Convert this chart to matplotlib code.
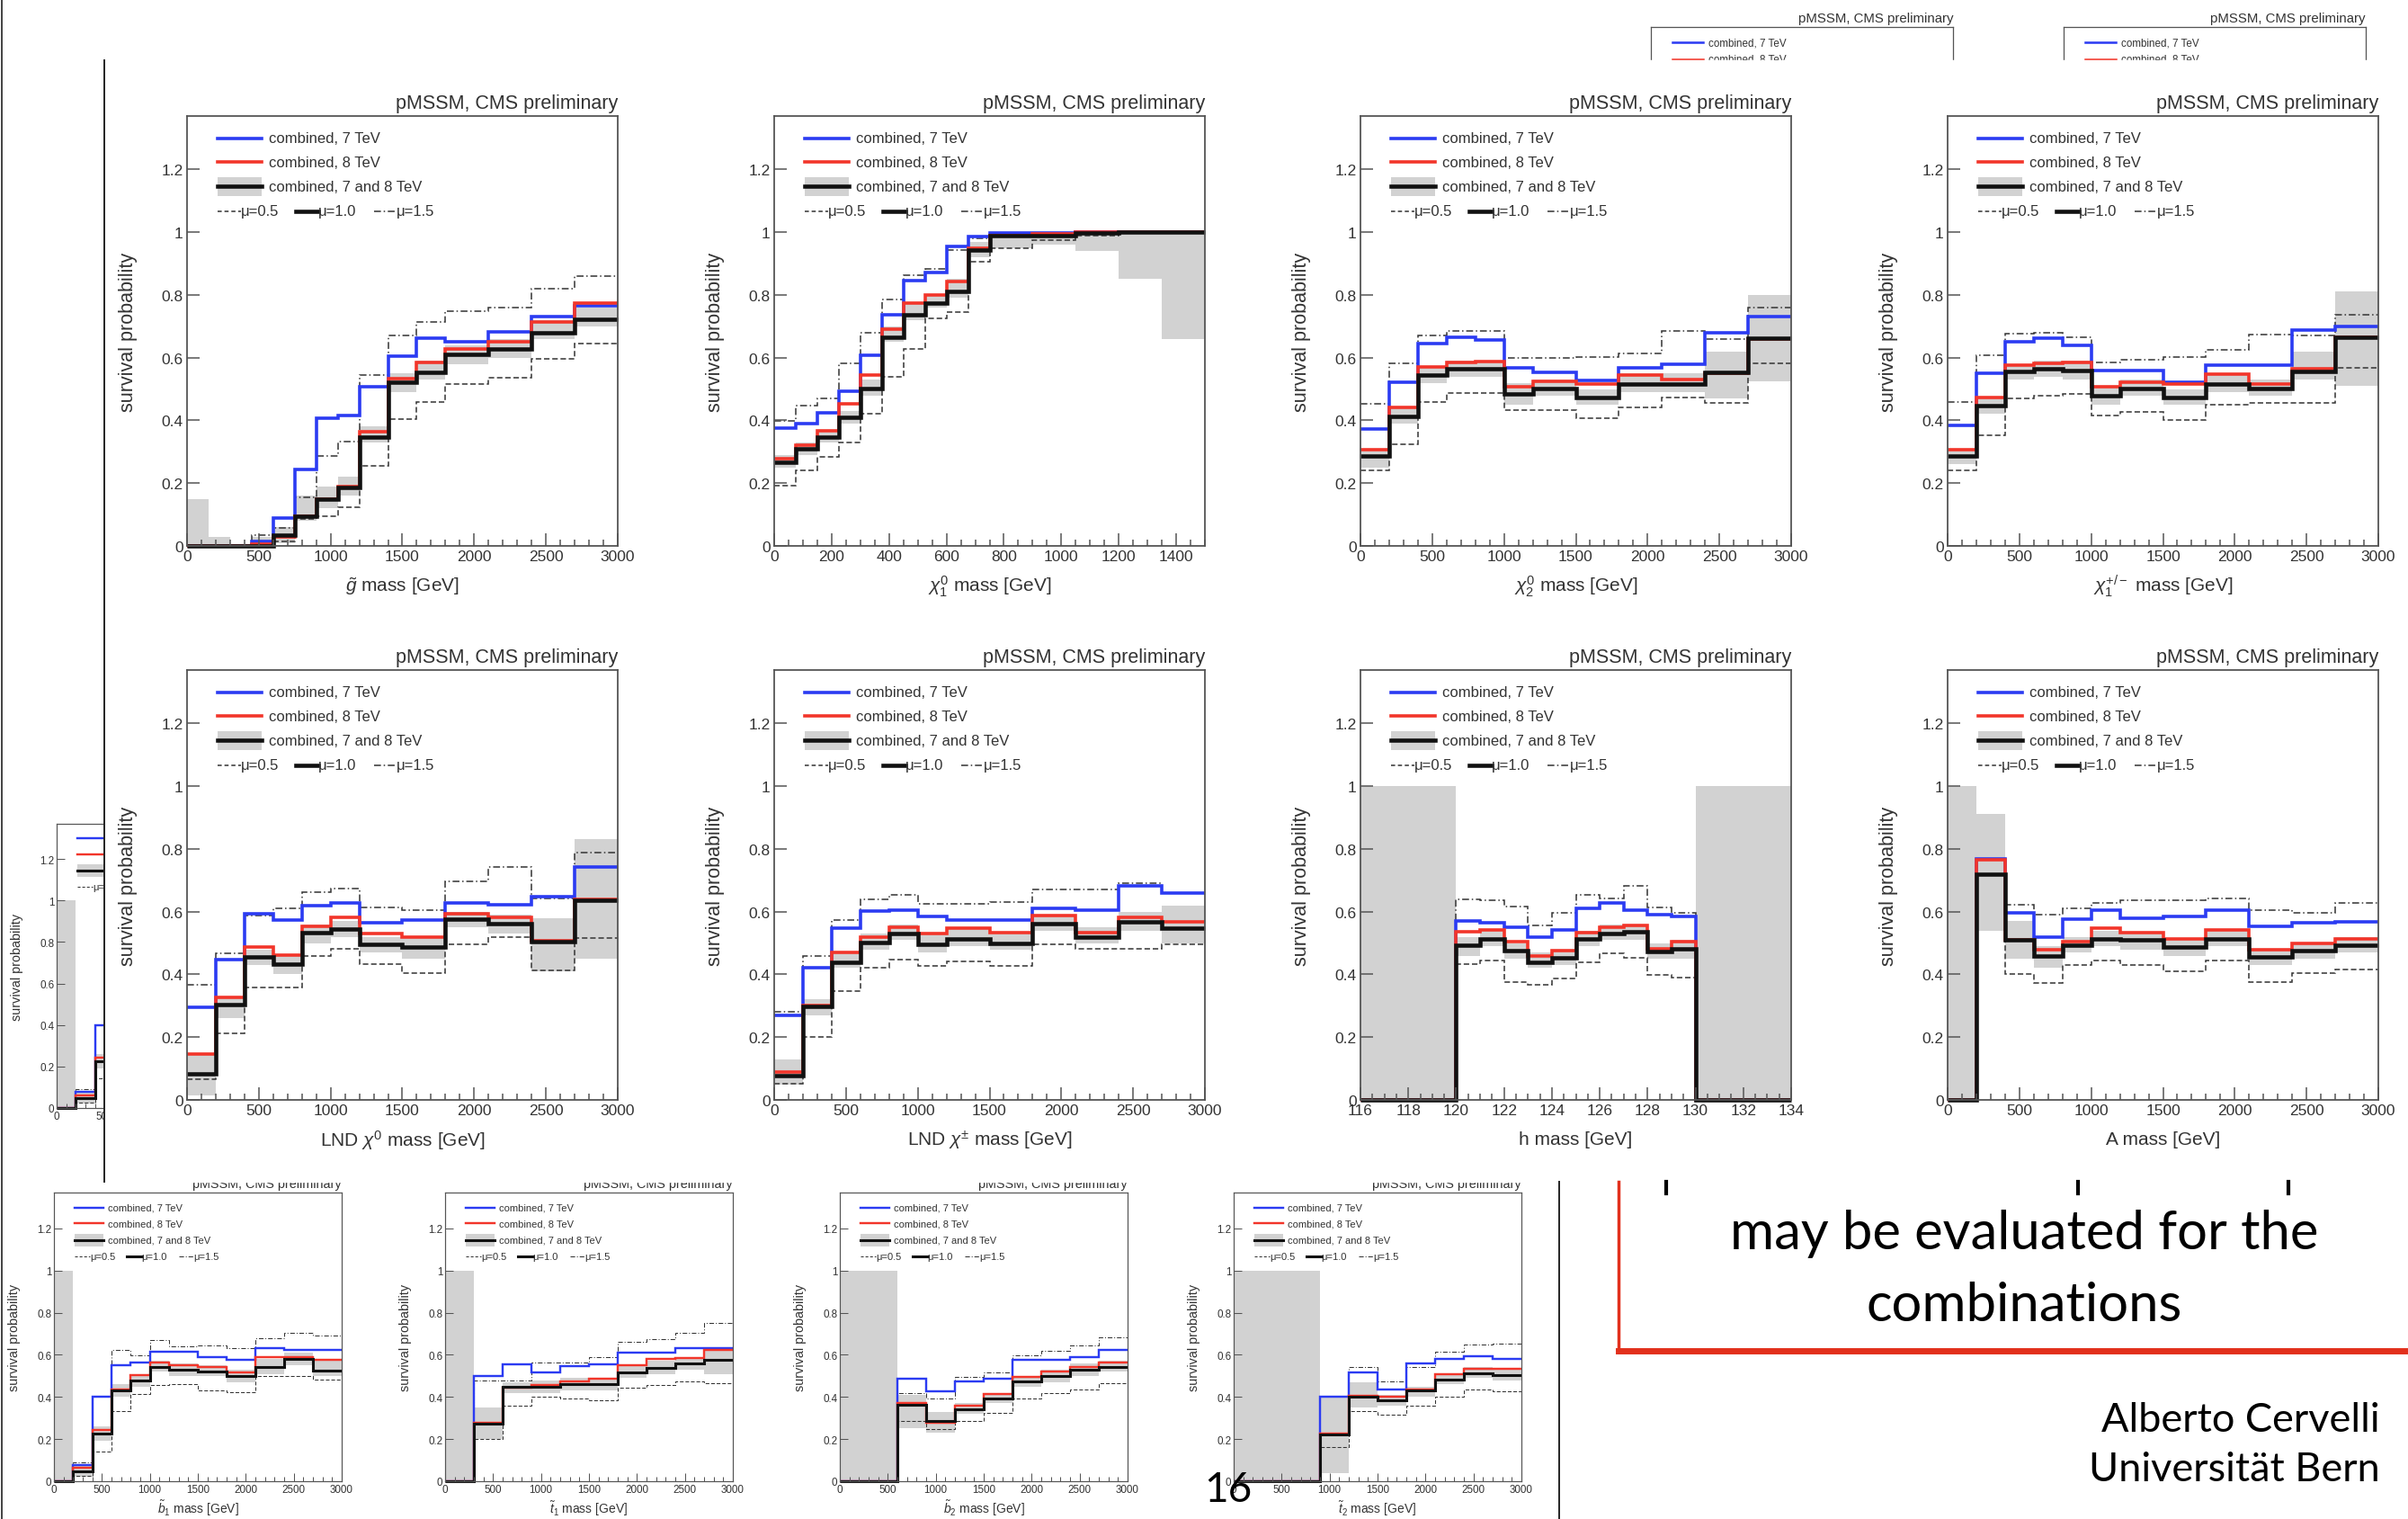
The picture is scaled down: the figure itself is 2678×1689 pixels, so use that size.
import matplotlib
matplotlib.use("Agg")
import matplotlib.pyplot as plt
from matplotlib.patches import Rectangle
from matplotlib.lines import Line2D

plt.rcParams['font.family'] = ['Liberation Sans', 'DejaVu Sans']
plt.rcParams['mathtext.fontset'] = 'custom'
plt.rcParams['mathtext.rm'] = 'Liberation Sans'
plt.rcParams['mathtext.it'] = 'Liberation Sans:italic'

W, H = 2678, 1690

# ---------- DATA ---------- #
E12 = [0, 200, 400, 600, 800, 1000, 1200, 1500, 1800, 2100, 2400, 2700, 3000]

gl_edges = [0, 150, 300, 450, 600, 750, 900, 1050, 1200, 1400, 1600, 1800, 2100, 2400, 2700, 3000]
gl_blue = [0, 0, 0, 0.013, 0.09, 0.245, 0.407, 0.415, 0.506, 0.605, 0.661, 0.65, 0.682, 0.73, 0.765]
gl_red = [0, 0, 0, 0.005, 0.03, 0.096, 0.15, 0.19, 0.365, 0.533, 0.586, 0.629, 0.652, 0.714, 0.773]
gl_black = [0, 0, 0, 0, 0.035, 0.096, 0.149, 0.187, 0.346, 0.522, 0.554, 0.61, 0.629, 0.68, 0.723]
gl_lo = [0, 0, 0, 0, 0.01, 0.08, 0.12, 0.16, 0.33, 0.49, 0.53, 0.58, 0.6, 0.66, 0.70]
gl_hi = [0.15, 0.03, 0.005, 0.03, 0.06, 0.16, 0.19, 0.22, 0.38, 0.55, 0.59, 0.64, 0.66, 0.72, 0.76]
gl_up = [0, 0, 0, 0.035, 0.056, 0.155, 0.286, 0.333, 0.544, 0.67, 0.714, 0.748, 0.759, 0.821, 0.861]
gl_dn = [0, 0, 0, 0.005, 0.013, 0.085, 0.096, 0.123, 0.256, 0.405, 0.46, 0.517, 0.535, 0.597, 0.645]

n1_edges = [0, 75, 150, 225, 300, 375, 450, 525, 600, 675, 750, 900, 1050, 1200, 1350, 1500]
n1_blue = [0.375, 0.389, 0.424, 0.493, 0.608, 0.736, 0.845, 0.871, 0.954, 0.985, 0.997, 0.997, 1.0, 1.0, 1.0]
n1_red = [0.277, 0.322, 0.366, 0.453, 0.544, 0.69, 0.773, 0.80, 0.842, 0.948, 0.99, 0.995, 1.0, 1.0, 1.0]
n1_black = [0.267, 0.309, 0.346, 0.41, 0.501, 0.666, 0.736, 0.773, 0.81, 0.943, 0.99, 0.99, 0.997, 1.0, 1.0]
n1_lo = [0.25, 0.29, 0.33, 0.39, 0.48, 0.65, 0.72, 0.76, 0.79, 0.92, 0.95, 0.96, 0.94, 0.85, 0.66]
n1_hi = [0.29, 0.33, 0.37, 0.43, 0.53, 0.70, 0.77, 0.80, 0.85, 0.97, 1.0, 1.0, 1.0, 1.0, 1.0]
n1_up = [0.397, 0.448, 0.469, 0.581, 0.68, 0.784, 0.864, 0.882, 0.943, 0.979, 0.995, 0.998, 1.0, 1.0, 1.0]
n1_dn = [0.192, 0.24, 0.283, 0.33, 0.421, 0.538, 0.629, 0.725, 0.746, 0.906, 0.949, 0.975, 0.99, 1.0, 1.0]

n2_blue = [0.373, 0.522, 0.645, 0.666, 0.656, 0.567, 0.554, 0.526, 0.567, 0.578, 0.68, 0.73]
n2_red = [0.307, 0.442, 0.57, 0.584, 0.588, 0.506, 0.525, 0.517, 0.544, 0.531, 0.55, 0.66]
n2_black = [0.288, 0.413, 0.544, 0.565, 0.565, 0.485, 0.503, 0.474, 0.517, 0.517, 0.554, 0.661]
n2_lo = [0.25, 0.39, 0.52, 0.54, 0.54, 0.45, 0.48, 0.45, 0.49, 0.49, 0.47, 0.525]
n2_hi = [0.31, 0.44, 0.57, 0.59, 0.59, 0.52, 0.53, 0.50, 0.55, 0.55, 0.62, 0.80]
n2_up = [0.453, 0.583, 0.67, 0.684, 0.684, 0.599, 0.599, 0.602, 0.613, 0.684, 0.659, 0.76]
n2_dn = [0.24, 0.325, 0.458, 0.488, 0.488, 0.432, 0.432, 0.407, 0.442, 0.474, 0.456, 0.581]

c1_blue = [0.384, 0.549, 0.652, 0.661, 0.64, 0.56, 0.56, 0.522, 0.576, 0.576, 0.688, 0.698]
c1_red = [0.306, 0.474, 0.576, 0.581, 0.586, 0.506, 0.522, 0.517, 0.546, 0.517, 0.565, 0.665]
c1_black = [0.288, 0.448, 0.557, 0.565, 0.56, 0.48, 0.503, 0.474, 0.517, 0.501, 0.557, 0.666]
c1_lo = [0.26, 0.42, 0.53, 0.54, 0.53, 0.45, 0.48, 0.45, 0.49, 0.48, 0.53, 0.51]
c1_hi = [0.31, 0.47, 0.58, 0.59, 0.59, 0.51, 0.53, 0.50, 0.55, 0.53, 0.62, 0.81]
c1_up = [0.46, 0.608, 0.677, 0.68, 0.666, 0.586, 0.594, 0.602, 0.624, 0.674, 0.672, 0.738]
c1_dn = [0.24, 0.352, 0.469, 0.48, 0.485, 0.416, 0.426, 0.40, 0.45, 0.456, 0.456, 0.567]

ln0_blue = [0.295, 0.448, 0.594, 0.572, 0.62, 0.628, 0.565, 0.574, 0.628, 0.623, 0.647, 0.742]
ln0_red = [0.147, 0.328, 0.486, 0.461, 0.553, 0.583, 0.529, 0.518, 0.594, 0.583, 0.508, 0.64]
ln0_black = [0.083, 0.303, 0.456, 0.434, 0.532, 0.545, 0.495, 0.486, 0.577, 0.561, 0.505, 0.637]
ln0_lo = [0.015, 0.26, 0.43, 0.40, 0.50, 0.52, 0.47, 0.45, 0.55, 0.53, 0.41, 0.45]
ln0_hi = [0.15, 0.33, 0.48, 0.46, 0.56, 0.57, 0.52, 0.52, 0.60, 0.59, 0.58, 0.83]
ln0_up = [0.368, 0.467, 0.588, 0.61, 0.663, 0.674, 0.612, 0.606, 0.696, 0.742, 0.642, 0.787]
ln0_dn = [0.065, 0.212, 0.357, 0.357, 0.459, 0.481, 0.432, 0.405, 0.495, 0.518, 0.414, 0.516]

lnc_blue = [0.268, 0.422, 0.547, 0.602, 0.606, 0.585, 0.572, 0.572, 0.61, 0.606, 0.682, 0.658]
lnc_red = [0.088, 0.3, 0.47, 0.518, 0.551, 0.529, 0.547, 0.534, 0.588, 0.534, 0.583, 0.567]
lnc_black = [0.077, 0.298, 0.438, 0.502, 0.529, 0.497, 0.513, 0.499, 0.563, 0.52, 0.567, 0.548]
lnc_lo = [0.05, 0.27, 0.42, 0.48, 0.51, 0.47, 0.49, 0.48, 0.54, 0.50, 0.54, 0.50]
lnc_hi = [0.13, 0.32, 0.47, 0.53, 0.56, 0.53, 0.55, 0.53, 0.59, 0.55, 0.60, 0.62]
lnc_up = [0.282, 0.459, 0.574, 0.639, 0.653, 0.626, 0.626, 0.631, 0.671, 0.671, 0.69, 0.658]
lnc_dn = [0.051, 0.201, 0.348, 0.422, 0.448, 0.427, 0.441, 0.427, 0.497, 0.481, 0.481, 0.497]

h_edges = [116, 120, 121, 122, 123, 124, 125, 126, 127, 128, 129, 130, 134]
h_blue = [0, 0.571, 0.566, 0.549, 0.52, 0.541, 0.611, 0.627, 0.606, 0.59, 0.584, 0]
h_red = [0, 0.536, 0.541, 0.504, 0.458, 0.477, 0.533, 0.549, 0.557, 0.482, 0.504, 0]
h_black = [0, 0.493, 0.514, 0.477, 0.439, 0.453, 0.514, 0.53, 0.536, 0.472, 0.482, 0]
h_lo = [0, 0.46, 0.49, 0.45, 0.42, 0.43, 0.49, 0.51, 0.51, 0.45, 0.45, 0]
h_hi = [1, 0.52, 0.54, 0.50, 0.47, 0.48, 0.54, 0.56, 0.56, 0.50, 0.51, 1]
h_up = [0, 0.638, 0.636, 0.616, 0.557, 0.595, 0.654, 0.643, 0.681, 0.614, 0.595, 0]
h_dn = [0, 0.434, 0.445, 0.375, 0.368, 0.386, 0.439, 0.466, 0.453, 0.397, 0.389, 0]

A_blue = [0, 0.768, 0.597, 0.52, 0.576, 0.606, 0.579, 0.584, 0.606, 0.552, 0.565, 0.568]
A_red = [0, 0.764, 0.51, 0.479, 0.504, 0.547, 0.533, 0.514, 0.541, 0.479, 0.498, 0.514]
A_black = [0, 0.718, 0.509, 0.458, 0.493, 0.514, 0.509, 0.488, 0.514, 0.456, 0.477, 0.493]
A_lo = [0, 0.54, 0.45, 0.42, 0.47, 0.49, 0.48, 0.46, 0.49, 0.43, 0.45, 0.47]
A_hi = [1.0, 0.91, 0.57, 0.49, 0.52, 0.54, 0.53, 0.51, 0.54, 0.48, 0.50, 0.52]
A_up = [0, 0.768, 0.622, 0.59, 0.611, 0.627, 0.636, 0.636, 0.643, 0.606, 0.595, 0.627]
A_dn = [0, 0.72, 0.402, 0.372, 0.429, 0.443, 0.429, 0.41, 0.445, 0.375, 0.404, 0.415]

sb1_blue = [0, 0.076, 0.40, 0.551, 0.565, 0.616, 0.616, 0.587, 0.576, 0.633, 0.623, 0.623]
sb1_red = [0, 0.062, 0.242, 0.436, 0.504, 0.565, 0.551, 0.544, 0.515, 0.587, 0.587, 0.576]
sb1_black = [0, 0.047, 0.227, 0.432, 0.479, 0.544, 0.53, 0.522, 0.498, 0.544, 0.58, 0.527]
sb1_lo = [0, 0.02, 0.19, 0.40, 0.45, 0.52, 0.50, 0.50, 0.47, 0.51, 0.55, 0.50]
sb1_hi = [1, 0.08, 0.26, 0.46, 0.51, 0.57, 0.56, 0.55, 0.53, 0.58, 0.61, 0.57]
sb1_up = [0, 0.09, 0.40, 0.623, 0.599, 0.67, 0.642, 0.645, 0.63, 0.68, 0.705, 0.69]
sb1_dn = [0, 0.026, 0.141, 0.335, 0.414, 0.455, 0.46, 0.432, 0.422, 0.50, 0.50, 0.483]

st1_edges = [0, 300, 600, 900, 1200, 1500, 1800, 2100, 2400, 2700, 3000]
st1_blue = [0, 0.50, 0.555, 0.518, 0.547, 0.555, 0.609, 0.609, 0.63, 0.633]
st1_red = [0, 0.278, 0.443, 0.458, 0.475, 0.486, 0.551, 0.58, 0.584, 0.623]
st1_black = [0, 0.273, 0.446, 0.45, 0.46, 0.46, 0.518, 0.537, 0.558, 0.576]
st1_lo = [0, 0.20, 0.42, 0.42, 0.43, 0.43, 0.49, 0.51, 0.53, 0.51]
st1_hi = [1, 0.35, 0.47, 0.48, 0.49, 0.49, 0.55, 0.57, 0.59, 0.62]
st1_up = [0, 0.479, 0.479, 0.565, 0.565, 0.587, 0.662, 0.676, 0.705, 0.753]
st1_dn = [0, 0.199, 0.357, 0.40, 0.393, 0.385, 0.443, 0.458, 0.472, 0.465]

sb2_edges = [0, 600, 900, 1200, 1500, 1800, 2100, 2400, 2700, 3000]
sb2_blue = [0, 0.486, 0.426, 0.472, 0.486, 0.576, 0.576, 0.59, 0.623]
sb2_red = [0, 0.371, 0.278, 0.357, 0.414, 0.494, 0.522, 0.544, 0.565]
sb2_black = [0, 0.364, 0.285, 0.342, 0.393, 0.472, 0.50, 0.529, 0.544]
sb2_lo = [0, 0.25, 0.23, 0.32, 0.37, 0.45, 0.47, 0.50, 0.52]
sb2_hi = [1, 0.41, 0.33, 0.37, 0.42, 0.50, 0.53, 0.56, 0.57]
sb2_up = [0, 0.417, 0.393, 0.494, 0.518, 0.599, 0.619, 0.645, 0.681]
sb2_dn = [0, 0.285, 0.249, 0.288, 0.325, 0.393, 0.417, 0.436, 0.465]

st2_edges = [0, 900, 1200, 1500, 1800, 2100, 2400, 2700, 3000]
st2_blue = [0, 0.40, 0.515, 0.436, 0.558, 0.58, 0.594, 0.58]
st2_red = [0, 0.225, 0.407, 0.40, 0.436, 0.508, 0.532, 0.532]
st2_black = [0, 0.22, 0.403, 0.386, 0.429, 0.483, 0.512, 0.504]
st2_lo = [0, 0.04, 0.35, 0.36, 0.40, 0.46, 0.49, 0.48]
st2_hi = [1, 0.40, 0.47, 0.41, 0.45, 0.51, 0.54, 0.53]
st2_up = [0, 0.40, 0.541, 0.475, 0.544, 0.613, 0.647, 0.652]
st2_dn = [0, 0.163, 0.335, 0.314, 0.357, 0.403, 0.436, 0.426]

YTICKS = [0, 0.2, 0.4, 0.6, 0.8, 1.0, 1.2]
YTICK_LABELS = ["0", "0.2", "0.4", "0.6", "0.8", "1", "1.2"]
M3000 = list(range(0, 3001, 500))
m3000 = list(range(0, 3001, 100))

BLUE = "#2b3bf2"
RED = "#f2352a"
GRAY = "#d2d2d2"
TXT = "#333333"

fig = plt.figure(figsize=(W / 100, H / 100), dpi=100)
fig.patch.set_facecolor("white")


def box(x0, y0, w, h):
    return [x0 / W, 1 - (y0 + h) / H, w / W, h / H]


# ---------- PANEL ---------- #
def legend(ax, s, ntext=6):
    kw = dict(transform=ax.transAxes, clip_on=False)
    fs = 12 * s
    ax.add_patch(Rectangle((0.072, 0.814), 0.101, 0.044, color=GRAY, lw=0, transform=ax.transAxes))
    ax.plot([0.072, 0.173], [0.948, 0.948], color=BLUE, lw=2.6 * s, **kw)
    ax.plot([0.072, 0.173], [0.893, 0.893], color=RED, lw=2.6 * s, **kw)
    ax.plot([0.072, 0.173], [0.836, 0.836], color="#111111", lw=3.3 * s, **kw)
    ax.plot([0.072, 0.125], [0.779, 0.779], color=TXT, lw=1.1 * s, dashes=(3, 2), **kw)
    ax.plot([0.253, 0.305], [0.779, 0.779], color="#111111", lw=3.3 * s, **kw)
    ax.plot([0.434, 0.486], [0.779, 0.779], color=TXT, lw=1.1 * s, dashes=(5, 2, 1, 2), **kw)
    texts = [(0.189, 0.948, "combined, 7 TeV"), (0.189, 0.893, "combined, 8 TeV"),
             (0.189, 0.836, "combined, 7 and 8 TeV"), (0.125, 0.779, "μ=0.5"),
             (0.305, 0.779, "μ=1.0"), (0.486, 0.779, "μ=1.5")]
    for i, (x, y, t) in enumerate(texts):
        if (ntext == "mu" and i == 3) or (ntext != "mu" and i < ntext):
            ax.text(x, y, t, fontsize=fs, color=TXT, va="center", transform=ax.transAxes)


def panel(ax, edges, blue, red, black, lo, hi, up, dn, xlabel, xlim, major, minor, s=1.0,
          mode="full"):
    if edges is not None:
        ax.stairs(hi, edges, baseline=lo, fill=True, color=GRAY, lw=0)
        ax.stairs(up, edges, baseline=None, color=TXT, lw=1.1 * s, linestyle=(0, (5, 2, 1, 2)), clip_on=False)
        ax.stairs(dn, edges, baseline=None, color=TXT, lw=1.1 * s, linestyle=(0, (4, 2)), clip_on=False)
        ax.stairs(blue, edges, baseline=None, color=BLUE, lw=2.6 * s, clip_on=False)
        ax.stairs(red, edges, baseline=None, color=RED, lw=2.6 * s, clip_on=False)
        ax.stairs(black, edges, baseline=None, color="#111111", lw=3.3 * s, clip_on=False)
    ax.set_xlim(*xlim)
    ax.set_ylim(0, 1.37)
    ax.set_xticks(major)
    ax.set_xticks(minor, minor=True)
    ax.set_yticks(YTICKS)
    if mode == "top":
        # only the upper strip of this plot shows above the main picture
        ax.set_yticklabels([""] * 6 + ["1.2"])
        ax.set_xticklabels([])
    else:
        ax.set_yticklabels(YTICK_LABELS)
    ax.tick_params(which="both", direction="in", top=False, right=False, colors="#555555",
                   labelcolor=TXT, labelsize=12.5 * s, pad=3 * s, width=1.1 * s)
    ax.tick_params(which="major", length=10 * s)
    ax.tick_params(which="minor", length=5 * s)
    ax.tick_params(axis="y", which="minor", left=False)
    for sp in ax.spines.values():
        sp.set_color("#555555")
        sp.set_linewidth(1.3 * s)
    if mode != "left":
        ax.text(1.0, 1.03, "pMSSM, CMS preliminary", ha="right", va="center", fontsize=15.5 * s,
                color=TXT, transform=ax.transAxes)
    if mode != "top":
        ax.text(-0.136, 0.5, "survival probability", rotation=90, ha="center", va="center",
                fontsize=15.5 * s, color=TXT, transform=ax.transAxes)
    if mode == "full":
        ax.text(0.5, -0.092, xlabel, ha="center", va="center", fontsize=15 * s, color=TXT,
                transform=ax.transAxes)
    legend(ax, s, ntext={"full": 6, "top": 2, "left": "mu"}[mode])


# ---------- BACKGROUND PANELS (partly hidden) ---------- #
s_small = 320 / 479.0
ax = fig.add_axes(box(63, 917, 320, 316), zorder=0)
panel(ax, E12, sb1_blue, sb1_red, sb1_black, sb1_lo, sb1_hi, sb1_up, sb1_dn,
      r"$\tilde{b}_1$ mass [GeV]", (0, 3000), M3000, m3000, s_small, mode="left")

for left in [1836, 2295]:
    ax = fig.add_axes(box(left, 31, 336, 335), zorder=0)
    panel(ax, None, None, None, None, None, None, None, None, "", (0, 3000), M3000, m3000, 0.7,
          mode="top")

bottom = [
    (60, E12, sb1_blue, sb1_red, sb1_black, sb1_lo, sb1_hi, sb1_up, sb1_dn, r"$\tilde{b}_1$ mass [GeV]"),
    (495, st1_edges, st1_blue, st1_red, st1_black, st1_lo, st1_hi, st1_up, st1_dn, r"$\tilde{t}_1$ mass [GeV]"),
    (934, sb2_edges, sb2_blue, sb2_red, sb2_black, sb2_lo, sb2_hi, sb2_up, sb2_dn, r"$\tilde{b}_2$ mass [GeV]"),
    (1372, st2_edges, st2_blue, st2_red, st2_black, st2_lo, st2_hi, st2_up, st2_dn, r"$\tilde{t}_2$ mass [GeV]"),
]
for left, e, b, r, k, lo, hi, up, dn, lab in bottom:
    ax = fig.add_axes(box(left, 1327, 320, 321), zorder=0)
    panel(ax, e, b, r, k, lo, hi, up, dn, lab, (0, 3000), M3000, m3000, s_small)

# white backdrop of the main picture
fig.add_artist(Rectangle((116 / W, 1 - 1315 / H), (W - 116) / W, (1315 - 68) / H,
                         transform=fig.transFigure, color="white", zorder=1))

# ---------- MAIN GRID ---------- #
main = [
    (208, 130, gl_edges, gl_blue, gl_red, gl_black, gl_lo, gl_hi, gl_up, gl_dn,
     r"$\tilde{g}$ mass [GeV]", (0, 3000), M3000, m3000),
    (861, 130, n1_edges, n1_blue, n1_red, n1_black, n1_lo, n1_hi, n1_up, n1_dn,
     r"$\chi^{0}_{1}$ mass [GeV]", (0, 1500), list(range(0, 1401, 200)), list(range(0, 1501, 50))),
    (1513, 130, E12, n2_blue, n2_red, n2_black, n2_lo, n2_hi, n2_up, n2_dn,
     r"$\chi^{0}_{2}$ mass [GeV]", (0, 3000), M3000, m3000),
    (2166, 130, E12, c1_blue, c1_red, c1_black, c1_lo, c1_hi, c1_up, c1_dn,
     r"$\chi^{+/-}_{1}$ mass [GeV]", (0, 3000), M3000, m3000),
    (208, 746, E12, ln0_blue, ln0_red, ln0_black, ln0_lo, ln0_hi, ln0_up, ln0_dn,
     r"LND $\chi^{0}$ mass [GeV]", (0, 3000), M3000, m3000),
    (861, 746, E12, lnc_blue, lnc_red, lnc_black, lnc_lo, lnc_hi, lnc_up, lnc_dn,
     r"LND $\chi^{\pm}$ mass [GeV]", (0, 3000), M3000, m3000),
    (1513, 746, h_edges, h_blue, h_red, h_black, h_lo, h_hi, h_up, h_dn,
     "h mass [GeV]", (116, 134), list(range(116, 135, 2)), [116 + 0.5 * i for i in range(37)]),
    (2166, 746, E12, A_blue, A_red, A_black, A_lo, A_hi, A_up, A_dn,
     "A mass [GeV]", (0, 3000), M3000, m3000),
]
for left, top, e, b, r, k, lo, hi, up, dn, lab, xl, mj, mn in main:
    ax = fig.add_axes(box(left, top, 479, 478), zorder=2)
    panel(ax, e, b, r, k, lo, hi, up, dn, lab, xl, mj, mn, 1.0)


# ---------- SLIDE DECORATION ---------- #
def fline(xs, ys, **kw):
    fig.add_artist(Line2D([x / W for x in xs], [1 - y / H for y in ys],
                          transform=fig.transFigure, zorder=3, **kw))


fline([1.5, 1.5], [0, H], color="#333333", lw=1.3)
fline([116, 116], [68, 1315], color="#222222", lw=1.4)
fline([1734, 1734], [1315, H], color="#222222", lw=1.4)
fline([1800, 1800], [1315, 1503], color="#e2301c", lw=2.5)
fline([1800, W], [1503, 1503], color="#e2301c", lw=5)
for x in [1853, 2311, 2545]:
    fline([x, x], [1315, 1328], color="black", lw=3)

fig.text(2251 / W, 1 - 1389 / H, "may be evaluated for the", ha="center", va="baseline",
         fontsize=43, family="Lato", color="black", zorder=4)
fig.text(2251 / W, 1 - 1469 / H, "combinations", ha="center", va="baseline",
         fontsize=43, family="Lato", color="black", zorder=4)
fig.text(2647 / W, 1 - 1592 / H, "Alberto Cervelli", ha="right", va="baseline",
         fontsize=32.5, family="Lato", color="black", zorder=4)
fig.text(2647 / W, 1 - 1647 / H, "Universität Bern", ha="right", va="baseline",
         fontsize=32.5, family="Lato", color="black", zorder=4)
fig.text(1366 / W, 1 - 1670 / H, "16", ha="center", va="baseline",
         fontsize=33, family="Lato", color="black", zorder=4)

fig.savefig("out.png", dpi=100)
